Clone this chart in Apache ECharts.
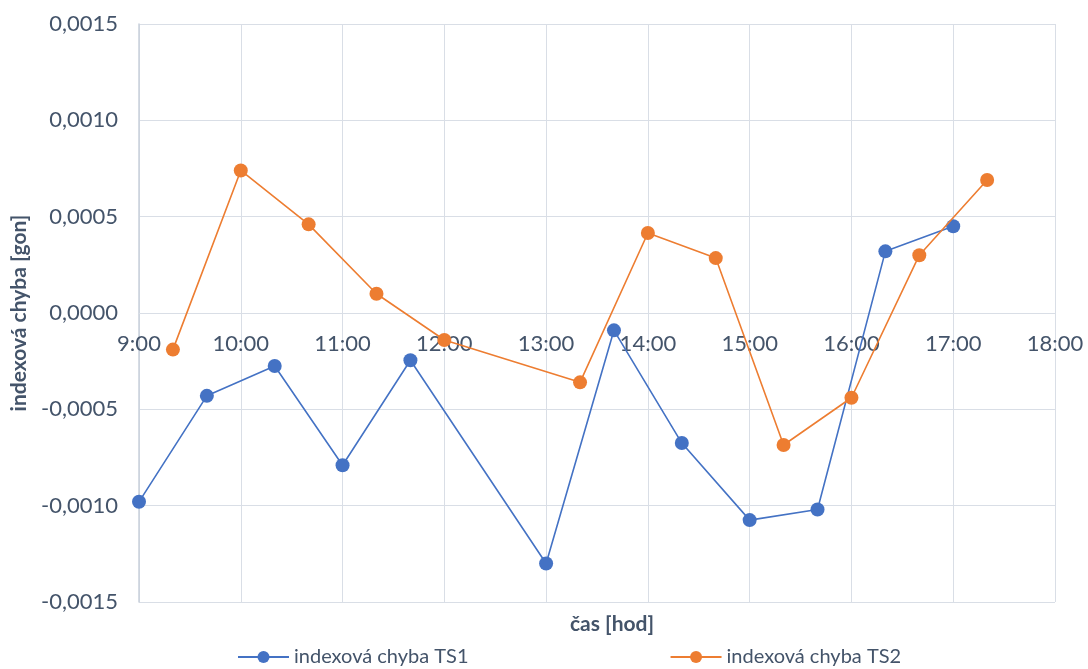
<!DOCTYPE html>
<html>
<head>
<meta charset="utf-8">
<script src="https://cdn.jsdelivr.net/npm/echarts@6/dist/echarts.min.js"></script>
<style>
  html, body { margin: 0; padding: 0; background: #fff; }
  #chart { width: 1088px; height: 669px; }
</style>
</head>
<body>
<div id="chart"></div>
<script>
// Measurement times (h:mm) and index errors in gon
const timesTS1 = ['9:00', '9:40', '10:20', '11:00', '11:40', '13:00', '13:40', '14:20', '15:00', '15:40', '16:20', '17:00'];
const valuesTS1 = [-0.00098, -0.00043, -0.000275, -0.00079, -0.000245, -0.0013, -0.00009, -0.000675, -0.001075, -0.00102, 0.00032, 0.00045];
const timesTS2 = ['9:20', '10:00', '10:40', '11:20', '12:00', '13:20', '14:00', '14:40', '15:20', '16:00', '16:40', '17:20'];
const valuesTS2 = [-0.00019, 0.00074, 0.00046, 0.0001, -0.00014, -0.00036, 0.000415, 0.000285, -0.000685, -0.00044, 0.0003, 0.00069];
const seriesNames = ['indexová chyba TS1', 'indexová chyba TS2'];
const xTitle = 'čas [hod]';
const yTitle = 'indexová chyba [gon]';

const toHours = t => { const [h, m] = t.split(':').map(Number); return h + m / 60; };
const pairs = (ts, vs) => ts.map((t, i) => [toHours(t), vs[i]]);

const FONT = 'Lato, "Open Sans", sans-serif';
const TEXT = '#44546A';
const GRID = '#D9DEE6';

const GRID_TOP = 24, GRID_BOTTOM = 67, H = 669;
// distance from the bottom of the plot up to the zero line (y range is symmetric)
const zeroOffset = (H - GRID_TOP - GRID_BOTTOM) / 2;

const chart = echarts.init(document.getElementById('chart'), null, { renderer: 'canvas' });
chart.setOption({
  animation: false,
  textStyle: { fontFamily: FONT, color: TEXT },
  grid: { left: 139, right: 33, top: GRID_TOP, bottom: GRID_BOTTOM, containLabel: false },
  title: {
    text: xTitle,
    left: 607, top: 609,
    textAlign: 'center',
    textStyle: { fontFamily: FONT, fontSize: 21, fontWeight: 'bold', color: TEXT }
  },
  legend: {
    top: 642,
    left: 232,
    itemGap: 201,
    itemWidth: 51,
    itemHeight: 15,
    textStyle: { fontFamily: FONT, fontSize: 20, color: TEXT },
    data: seriesNames
  },
  xAxis: {
    type: 'value',
    min: 9, max: 18, interval: 1,
    offset: -zeroOffset,
    axisLine: { onZero: false, lineStyle: { color: GRID, width: 1 } },
    axisTick: { show: false },
    axisLabel: { fontFamily: FONT, fontSize: 22, color: TEXT, margin: 20,
      formatter: v => Math.round(v) + ':00' },
    splitLine: { show: true, lineStyle: { color: GRID, width: 1 } }
  },
  yAxis: {
    type: 'value',
    min: -0.0015, max: 0.0015, interval: 0.0005,
    name: yTitle,
    nameLocation: 'middle',
    nameGap: 104,
    nameTextStyle: { fontFamily: FONT, fontSize: 21, fontWeight: 'bold', color: TEXT },
    axisLine: { show: true, onZero: false, lineStyle: { color: '#C9D0DB', width: 1.5 } },
    axisTick: { show: false },
    axisLabel: { fontFamily: FONT, fontSize: 22, color: TEXT, margin: 21,
      formatter: v => v.toFixed(4).replace('.', ',') },
    splitLine: { show: true, lineStyle: { color: GRID, width: 1 } }
  },
  series: [
    {
      name: seriesNames[0], type: 'line',
      data: pairs(timesTS1, valuesTS1),
      symbol: 'circle', symbolSize: 14,
      lineStyle: { color: '#4472C4', width: 1.6 },
      itemStyle: { color: '#4472C4' },
      z: 2
    },
    {
      name: seriesNames[1], type: 'line',
      data: pairs(timesTS2, valuesTS2),
      symbol: 'circle', symbolSize: 14,
      lineStyle: { color: '#ED7D31', width: 1.6 },
      itemStyle: { color: '#ED7D31' },
      z: 3
    }
  ]
});
</script>
</body>
</html>
